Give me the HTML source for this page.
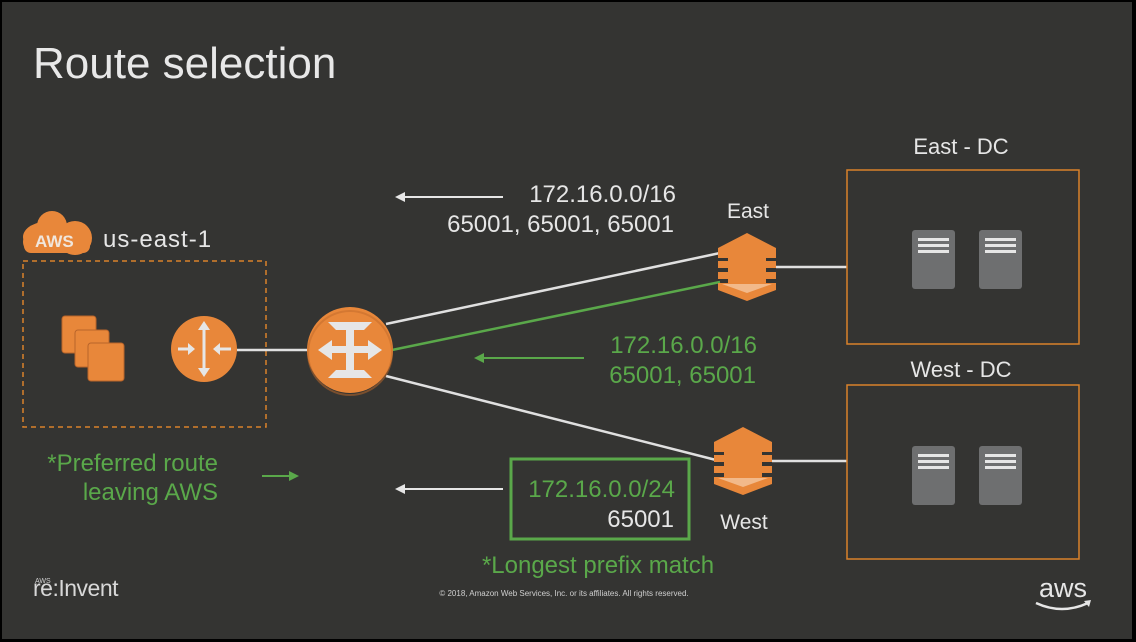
<!DOCTYPE html>
<html><head><meta charset="utf-8"><style>
html,body{margin:0;padding:0;background:#000;}
svg{display:block}
text{font-family:"Liberation Sans",sans-serif;}
</style></head><body>
<svg width="1136" height="642" viewBox="0 0 1136 642" xmlns="http://www.w3.org/2000/svg">
<rect x="2" y="2" width="1130" height="637" fill="#343432"/>
<text x="33" y="78" font-size="44" fill="#e8e8e8">Route selection</text>

<!-- AWS cloud -->
<g fill="#e8873a">
<ellipse cx="50" cy="237" rx="27" ry="16"/>
<circle cx="52" cy="226" r="15"/>
<circle cx="75" cy="238" r="17"/>
<circle cx="34" cy="242" r="11"/>
<rect x="24" y="238" width="66" height="15" rx="7"/>
</g>
<text x="35" y="247" font-size="17" font-weight="bold" fill="#f0e6dc">AWS</text>
<text x="103" y="247" font-size="24" fill="#e6e6e6" letter-spacing="1">us-east-1</text>

<rect x="23" y="261" width="243" height="166" fill="none" stroke="#d9822b" stroke-width="1.5" stroke-dasharray="5,4"/>

<!-- instances -->
<g fill="#e8873a" stroke="#b8642a" stroke-width="1">
<rect x="62" y="316" width="34" height="37" rx="3"/>
<rect x="75" y="330" width="34" height="37" rx="3"/>
<rect x="88" y="343" width="36" height="38" rx="3"/>
</g>

<!-- router -->
<circle cx="204" cy="349" r="33" fill="#e8873a"/>
<g stroke="#e6e6e6" stroke-width="3" fill="#e6e6e6">
<line x1="204" y1="325" x2="204" y2="373"/>
<line x1="178" y1="349" x2="190" y2="349"/>
<line x1="218" y1="349" x2="231" y2="349"/>
</g>
<g fill="#e6e6e6">
<polygon points="204,321 198,330 210,330"/><polygon points="204,377 198,368 210,368"/>
<polygon points="195,349 188,343 188,355"/><polygon points="213,349 220,343 220,355"/>
</g>
<line x1="237" y1="350" x2="308" y2="350" stroke="#e0e0e0" stroke-width="2.5"/>

<!-- lines -->
<line x1="386" y1="324" x2="720" y2="253" stroke="#e0e0e0" stroke-width="2.5"/>
<line x1="392" y1="350" x2="720" y2="282" stroke="#5aa84a" stroke-width="2.5"/>
<line x1="386" y1="376" x2="716" y2="460" stroke="#e0e0e0" stroke-width="2.5"/>
<line x1="776" y1="267" x2="847" y2="267" stroke="#e0e0e0" stroke-width="2.5"/>
<line x1="772" y1="461" x2="847" y2="461" stroke="#e0e0e0" stroke-width="2.5"/>

<!-- DX gateway -->
<circle cx="350" cy="350" r="43" fill="#e8873a"/>
<circle cx="350" cy="353" r="42" fill="none" stroke="#c06a2a" stroke-width="2" opacity="0.5"/>
<g fill="#e6e6e6">
<polygon points="328,322 372,322 364,330 336,330"/>
<polygon points="328,378 372,378 364,370 336,370"/>
<rect x="346" y="328" width="8" height="44"/>
<rect x="330" y="346" width="40" height="7"/>
<polygon points="318,350 332,340 332,360"/><polygon points="382,350 368,340 368,360"/>
</g>

<!-- VGW icons -->
<g id="vgw">
<polygon points="718,248 747,233 776,248 776,258 718,258" fill="#e8873a"/>
<rect x="728" y="258" width="38" height="25" fill="#e8873a"/>
<rect x="718" y="261" width="58" height="7" fill="#e8873a"/>
<rect x="718" y="272" width="58" height="7" fill="#e8873a"/>
<polygon points="718,283 776,283 776,290 747,301 718,290" fill="#e8873a"/>
<polygon points="722,284 772,284 747,293" fill="#f2b98a"/>
</g>
<use href="#vgw" transform="translate(-4,194)"/>

<text x="748" y="218" font-size="21" fill="#e6e6e6" text-anchor="middle">East</text>
<text x="744" y="529" font-size="21" fill="#e6e6e6" text-anchor="middle">West</text>

<!-- DCs -->
<text x="961" y="154" font-size="22" fill="#e6e6e6" text-anchor="middle">East - DC</text>
<rect x="847" y="170" width="232" height="174" fill="none" stroke="#d9822b" stroke-width="1.5"/>
<text x="961" y="377" font-size="22" fill="#e6e6e6" text-anchor="middle">West - DC</text>
<rect x="847" y="385" width="232" height="174" fill="none" stroke="#d9822b" stroke-width="1.5"/>
<g id="srv">
<rect x="912" y="230" width="43" height="59" rx="3" fill="#6e6f70"/>
<rect x="918" y="238" width="31" height="3" fill="#e6e6e6"/><rect x="918" y="244" width="31" height="3" fill="#e6e6e6"/><rect x="918" y="250" width="31" height="3" fill="#e6e6e6"/>
<rect x="979" y="230" width="43" height="59" rx="3" fill="#6e6f70"/>
<rect x="985" y="238" width="31" height="3" fill="#e6e6e6"/><rect x="985" y="244" width="31" height="3" fill="#e6e6e6"/><rect x="985" y="250" width="31" height="3" fill="#e6e6e6"/>
</g>
<use href="#srv" transform="translate(0,216)"/>

<!-- route labels -->
<g font-size="24">
<line x1="404" y1="197" x2="503" y2="197" stroke="#e6e6e6" stroke-width="2"/>
<polygon points="395,197 405,192 405,202" fill="#e6e6e6"/>
<text x="676" y="202" fill="#e6e6e6" text-anchor="end">172.16.0.0/16</text>
<text x="674" y="232" fill="#e6e6e6" text-anchor="end">65001, 65001, 65001</text>

<line x1="483" y1="358" x2="584" y2="358" stroke="#5aa84a" stroke-width="2"/>
<polygon points="474,358 484,353 484,363" fill="#5aa84a"/>
<text x="757" y="353" fill="#5aa84a" text-anchor="end">172.16.0.0/16</text>
<text x="756" y="383" fill="#5aa84a" text-anchor="end">65001, 65001</text>

<rect x="511" y="459" width="178" height="80" fill="none" stroke="#5aa84a" stroke-width="3"/>
<line x1="404" y1="489" x2="503" y2="489" stroke="#e6e6e6" stroke-width="2"/>
<polygon points="395,489 405,484 405,494" fill="#e6e6e6"/>
<text x="675" y="497" fill="#5aa84a" text-anchor="end">172.16.0.0/24</text>
<text x="674" y="527" fill="#e6e6e6" text-anchor="end">65001</text>
<text x="598" y="573" fill="#5aa84a" text-anchor="middle">*Longest prefix match</text>

<text x="218" y="471" fill="#5aa84a" text-anchor="end">*Preferred route</text>
<text x="218" y="500" fill="#5aa84a" text-anchor="end">leaving AWS</text>
</g>
<line x1="262" y1="476" x2="290" y2="476" stroke="#5aa84a" stroke-width="2"/>
<polygon points="299,476 289,471 289,481" fill="#5aa84a"/>

<!-- footer -->
<text x="35" y="583" font-size="7" fill="#d0d0d0">AWS</text>
<text x="33" y="596" font-size="23" fill="#d8d8d8" letter-spacing="-0.5">re:Invent</text>
<text x="564" y="596" font-size="8" fill="#cfcfcf" text-anchor="middle">© 2018, Amazon Web Services, Inc. or its affiliates. All rights reserved.</text>
<text x="1063" y="597" font-size="27" fill="#e6e6e6" text-anchor="middle">aws</text>
<path d="M1036,603 Q1062,615 1088,603" fill="none" stroke="#e6e6e6" stroke-width="2.5"/>
<polygon points="1091,600 1084,601 1089,607" fill="#e6e6e6"/>
</svg>
</body></html>
